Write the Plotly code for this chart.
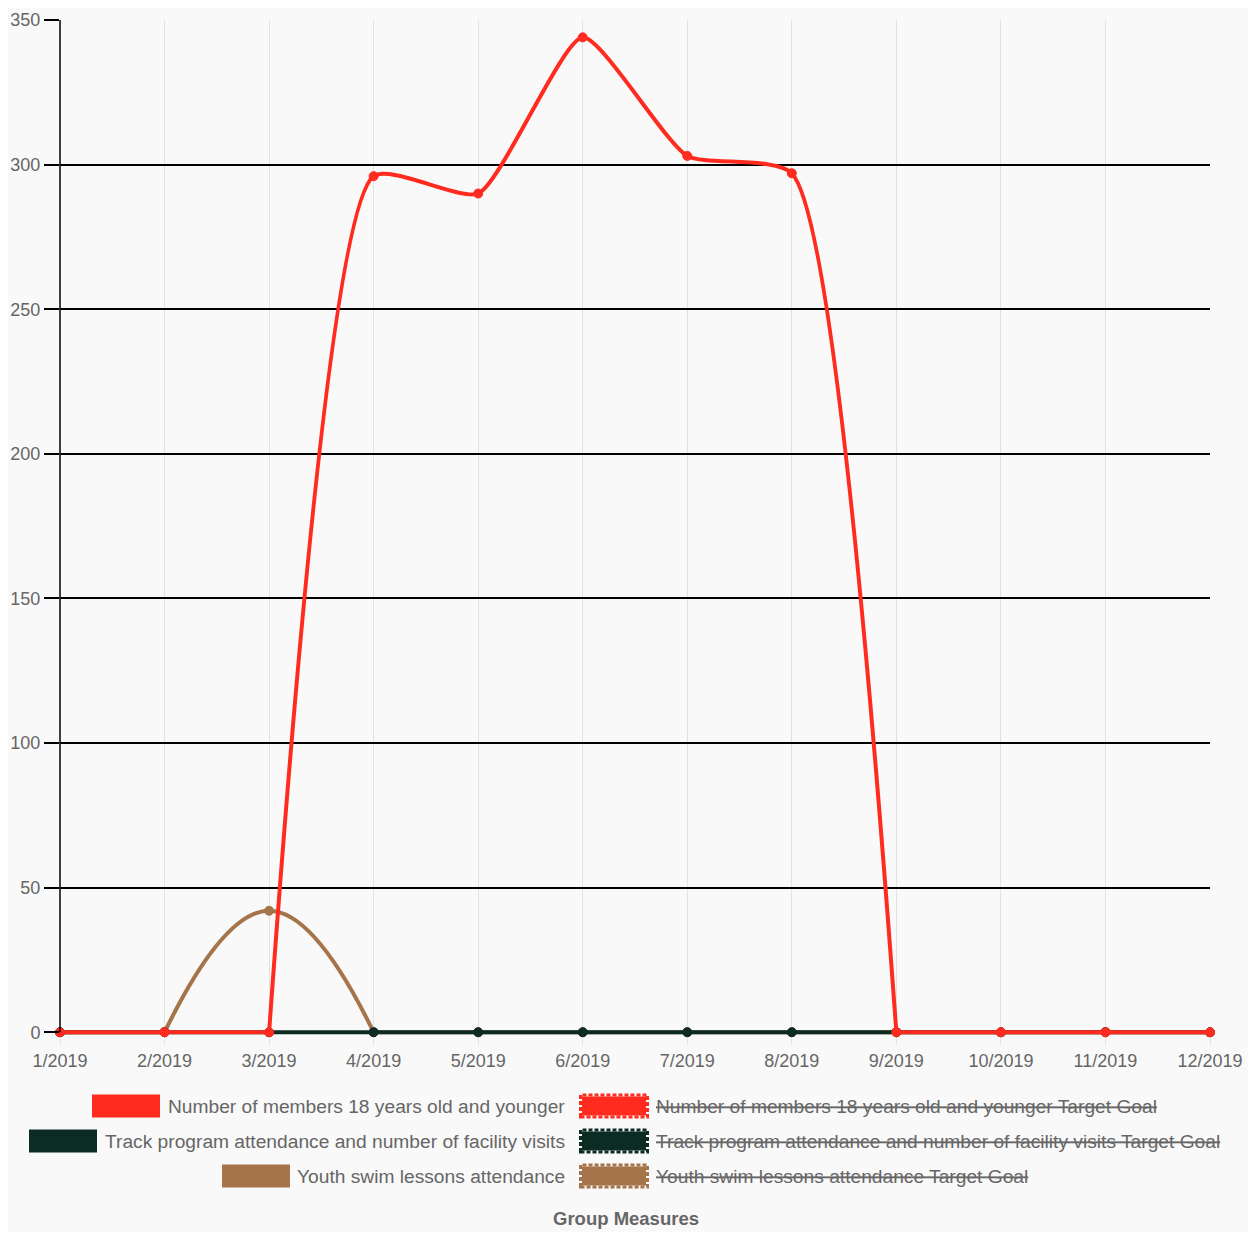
import plotly.graph_objects as go

months = ['1/2019', '2/2019', '3/2019', '4/2019', '5/2019', '6/2019',
          '7/2019', '8/2019', '9/2019', '10/2019', '11/2019', '12/2019']

members = [0, 0, 0, 296, 290, 344, 303, 297, 0, 0, 0, 0]
track = [0, 0, 0, 0, 0, 0, 0, 0, 0, 0, 0, 0]
swim = [0, 0, 42, 0, 0, 0, 0, 0, 0, 0, 0, 0]

series_names = ['Number of members 18 years old and younger',
                'Track program attendance and number of facility visits',
                'Youth swim lessons attendance']
goal_names = [n + ' Target Goal' for n in series_names]
series_colors = ['#ff2b1f', '#0c2b22', '#a5744a']
series_values = [members, track, swim]
series_smooth = [0.55, 1.0, 1.3]

y_ticks = [0, 50, 100, 150, 200, 250, 300, 350]

FONT = 'Liberation Sans, Arial, sans-serif'
GREY = '#666666'

# the page puts the figure 8px in from the corner; positions below are page pixels
OFF = 8
W, H = 1240, 1224
L, R, T, B = 60, 1210, 20, 1038   # plot area on the page


def px_x(p):
    return (p - L) / (R - L)


def px_y(p):
    return (B - p) / (B - T)


def runs(vals):
    # flat stretches at zero are straight, the rest is smoothed
    out = []
    for i in range(len(vals) - 1):
        kind = 'linear' if vals[i] == 0 and vals[i + 1] == 0 else 'spline'
        if out and out[-1][0] == kind and out[-1][2] == i:
            out[-1][2] = i + 1
        else:
            out.append([kind, i, i + 1])
    return out


fig = go.Figure()

# chart.js draws the first dataset on top, so add in reverse
for name, vals, color, sm in reversed(list(zip(series_names, series_values,
                                               series_colors, series_smooth))):
    for kind, i0, i1 in runs(vals):
        fig.add_trace(go.Scatter(
            x=months[i0:i1 + 1], y=vals[i0:i1 + 1],
            mode='lines',
            line=dict(color=color, width=4, shape=kind, smoothing=sm),
            showlegend=False, hoverinfo='skip'
        ))
    fig.add_trace(go.Scatter(
        x=months, y=vals, mode='markers', name=name,
        marker=dict(color=color, size=9, line=dict(color=color, width=1)),
        cliponaxis=False, showlegend=False
    ))

shapes = [
    # y axis line
    dict(type='line', xref='paper', yref='y', x0=0, x1=0, y0=0, y1=350,
         line=dict(color='black', width=1.5)),
]
annotations = []

row_y = [1106, 1141, 1176]
box1_x = [92, 29, 222]
bw, bh = 68, 23
for i, (name, goal, color) in enumerate(zip(series_names, goal_names, series_colors)):
    cy = row_y[i]
    shapes.append(dict(type='rect', xref='paper', yref='paper',
                       x0=px_x(box1_x[i]), x1=px_x(box1_x[i] + bw),
                       y0=px_y(cy + bh / 2), y1=px_y(cy - bh / 2),
                       fillcolor=color, line=dict(width=0)))
    annotations.append(dict(xref='paper', yref='paper', x=px_x(567), y=px_y(cy),
                            xanchor='right', yanchor='middle', showarrow=False,
                            text=name, font=dict(family=FONT, size=19.2, color=GREY)))
    # hidden target goal entry
    shapes.append(dict(type='rect', xref='paper', yref='paper',
                       x0=px_x(582), x1=px_x(646),
                       y0=px_y(cy + bh / 2 - 2), y1=px_y(cy - bh / 2 + 2),
                       fillcolor=color, line=dict(width=0)))
    shapes.append(dict(type='rect', xref='paper', yref='paper',
                       x0=px_x(580.5), x1=px_x(647.5),
                       y0=px_y(cy + bh / 2 - 0.5), y1=px_y(cy - bh / 2 + 0.5),
                       line=dict(color=color, width=3, dash='4px,2px')))
    annotations.append(dict(xref='paper', yref='paper', x=px_x(654), y=px_y(cy),
                            xanchor='left', yanchor='middle', showarrow=False,
                            text=goal,
                            font=dict(family=FONT, size=19.2, color=GREY,
                                      lineposition='through')))

annotations.append(dict(xref='paper', yref='paper', x=px_x(626), y=px_y(1218),
                        xanchor='center', yanchor='middle', showarrow=False,
                        text='<b>Group Measures</b>',
                        font=dict(family=FONT, size=18.5, color=GREY)))

fig.update_layout(
    width=W, height=H, autosize=False,
    margin=dict(l=L - OFF, r=W - (R - OFF), t=T - OFF, b=H - (B - OFF)),
    paper_bgcolor='#f9f9f9', plot_bgcolor='#f9f9f9',
    font=dict(family=FONT, size=18, color=GREY),
    showlegend=False,
    shapes=shapes, annotations=annotations,
    xaxis=dict(type='category', categoryorder='array', categoryarray=months,
               range=[0, 11], showgrid=True, gridcolor='#e2e2e2', gridwidth=1,
               ticks='outside', ticklen=6, tickcolor='#e2e2e2', tickwidth=1,
               showline=False, zeroline=False, automargin=False,
               tickfont=dict(family=FONT, size=18, color=GREY)),
    yaxis=dict(range=[-2, 350], tickvals=y_ticks, ticktext=[str(v) for v in y_ticks],
               showgrid=True, gridcolor='black', gridwidth=1.5,
               zeroline=True, zerolinecolor='black', zerolinewidth=1.5,
               ticks='outside', ticklen=15, tickcolor='black', tickwidth=1.5,
               showline=False, automargin=False,
               tickfont=dict(family=FONT, size=18, color=GREY)),
)

fig.write_html('out.html')
